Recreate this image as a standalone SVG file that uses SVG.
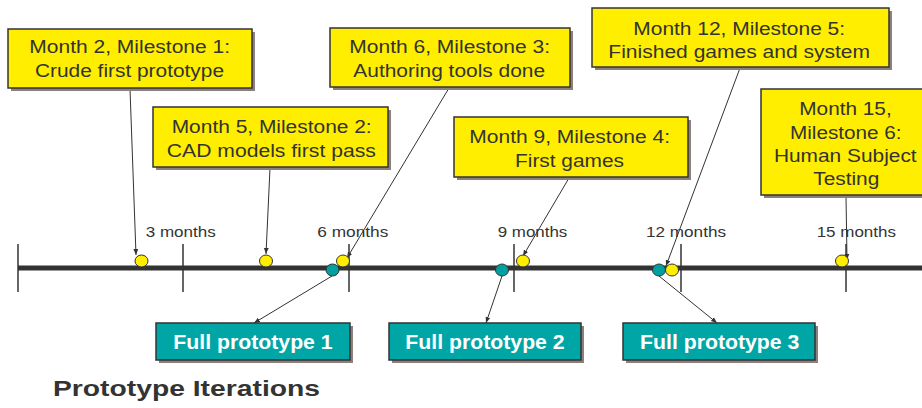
<svg xmlns="http://www.w3.org/2000/svg" width="922" height="408" viewBox="0 0 922 408">
  <defs>
    <marker id="arr" viewBox="0 0 10 10" refX="10" refY="5" markerWidth="6" markerHeight="6" orient="auto" markerUnits="userSpaceOnUse">
      <path d="M0,1 L10,5 L0,9 z" fill="#333"/>
    </marker>
  </defs>
  <style>
    .shadow { fill: #8c807c; }
    .ms { fill: #ffee00; stroke: #333; stroke-width: 1.5; }
    .proto { fill: #00a6a6; stroke: #333; stroke-width: 1.5; }
    .mtxt { font-family: "Liberation Sans", Arial, sans-serif; font-size: 17.5px; fill: #333; text-anchor: middle; }
    .ptxt { font-family: "Liberation Sans", Arial, sans-serif; font-size: 19.5px; font-weight: bold; fill: #fff; text-anchor: middle; }
    .tick { stroke: #333; stroke-width: 1.5; }
    .tlbl { font-family: "Liberation Sans", Arial, sans-serif; font-size: 15px; fill: #333; text-anchor: middle; }
    .link { stroke: #333; stroke-width: 1; fill: none; marker-end: url(#arr); }
    .ydot { fill: #ffee00; stroke: #333; stroke-width: 1; }
    .tdot { fill: #00a0a0; stroke: #333; stroke-width: 1; }
    .title { font-family: "Liberation Sans", Arial, sans-serif; font-size: 22px; font-weight: bold; fill: #333; }
  </style>

  <!-- timeline axis -->
  <g id="timeline">
    <line x1="18" y1="268" x2="922" y2="268" stroke="#333" stroke-width="5"/>
    <line class="tick" x1="18" y1="244" x2="18" y2="292"/>
    <line class="tick" x1="183" y1="244" x2="183" y2="292"/>
    <line class="tick" x1="349" y1="244" x2="349" y2="292"/>
    <line class="tick" x1="514" y1="244" x2="514" y2="292"/>
    <line class="tick" x1="681" y1="244" x2="681" y2="292"/>
    <line class="tick" x1="846" y1="244" x2="846" y2="292"/>
    <text class="tlbl" x="180.7" y="237" textLength="70" lengthAdjust="spacingAndGlyphs">3 months</text>
    <text class="tlbl" x="352.8" y="237" textLength="71" lengthAdjust="spacingAndGlyphs">6 months</text>
    <text class="tlbl" x="532.5" y="237" textLength="69.6" lengthAdjust="spacingAndGlyphs">9 months</text>
    <text class="tlbl" x="686" y="237" textLength="80" lengthAdjust="spacingAndGlyphs">12 months</text>
    <text class="tlbl" x="856.3" y="237" textLength="79.3" lengthAdjust="spacingAndGlyphs">15 months</text>
  </g>

  <!-- connectors -->
  <g id="connectors">
    <line class="link" x1="130" y1="89" x2="136" y2="255"/>
    <line class="link" x1="270" y1="168" x2="266" y2="254"/>
    <line class="link" x1="449" y1="88" x2="347" y2="258"/>
    <line class="link" x1="569" y1="178" x2="523" y2="256"/>
    <line class="link" x1="740" y1="68" x2="666" y2="266"/>
    <line class="link" x1="846" y1="196" x2="847" y2="260"/>
    <line class="link" x1="332" y1="276" x2="254" y2="323"/>
    <line class="link" x1="502" y1="276" x2="486" y2="323"/>
    <line class="link" x1="659" y1="276" x2="717" y2="323"/>
  </g>

  <!-- milestone markers on the axis -->
  <g id="markers">
    <ellipse class="ydot" cx="141.5" cy="261" rx="6.5" ry="6"/>
    <ellipse class="ydot" cx="266" cy="261" rx="6.5" ry="6"/>
    <ellipse class="tdot" cx="332.5" cy="270" rx="6.5" ry="6"/>
    <ellipse class="ydot" cx="343" cy="261" rx="6.5" ry="6"/>
    <ellipse class="tdot" cx="502" cy="270" rx="6.5" ry="6"/>
    <ellipse class="ydot" cx="523" cy="261" rx="6.5" ry="6"/>
    <ellipse class="tdot" cx="659" cy="270" rx="6.5" ry="6"/>
    <ellipse class="ydot" cx="672" cy="270" rx="6.5" ry="6"/>
    <ellipse class="ydot" cx="842" cy="261" rx="6.5" ry="6"/>
  </g>

  <g id="milestone1">
    <rect class="shadow" x="11" y="32" width="244" height="59"/>
    <rect class="ms" x="8" y="29" width="244" height="59"/>
    <text class="mtxt" x="129.7" y="53" textLength="200.7" lengthAdjust="spacingAndGlyphs">Month 2, Milestone 1:</text>
    <text class="mtxt" x="129.5" y="77" textLength="189" lengthAdjust="spacingAndGlyphs">Crude first prototype</text>
  </g>

  <g id="milestone2">
    <rect class="shadow" x="156" y="110" width="235" height="60"/>
    <rect class="ms" x="153" y="107" width="235" height="60"/>
    <text class="mtxt" x="271.7" y="133" textLength="200" lengthAdjust="spacingAndGlyphs">Month 5, Milestone 2:</text>
    <text class="mtxt" x="271.3" y="157" textLength="209" lengthAdjust="spacingAndGlyphs">CAD models first pass</text>
  </g>

  <g id="milestone3">
    <rect class="shadow" x="333" y="31" width="240" height="59"/>
    <rect class="ms" x="330" y="28" width="240" height="59"/>
    <text class="mtxt" x="449.7" y="53" textLength="200.7" lengthAdjust="spacingAndGlyphs">Month 6, Milestone 3:</text>
    <text class="mtxt" x="449.2" y="77" textLength="191.7" lengthAdjust="spacingAndGlyphs">Authoring tools done</text>
  </g>

  <g id="milestone4">
    <rect class="shadow" x="457" y="120" width="234" height="60"/>
    <rect class="ms" x="454" y="117" width="234" height="60"/>
    <text class="mtxt" x="569.7" y="143" textLength="200.7" lengthAdjust="spacingAndGlyphs">Month 9, Milestone 4:</text>
    <text class="mtxt" x="569.5" y="167" textLength="109" lengthAdjust="spacingAndGlyphs">First games</text>
  </g>

  <g id="milestone5">
    <rect class="shadow" x="595" y="11" width="297" height="59"/>
    <rect class="ms" x="592" y="8" width="297" height="59"/>
    <text class="mtxt" x="739.2" y="35" textLength="211.7" lengthAdjust="spacingAndGlyphs">Month 12, Milestone 5:</text>
    <text class="mtxt" x="739.2" y="58" textLength="261.7" lengthAdjust="spacingAndGlyphs">Finished games and system</text>
  </g>

  <g id="milestone6">
    <rect class="shadow" x="764" y="92" width="165" height="106"/>
    <rect class="ms" x="761" y="89" width="165" height="106"/>
    <text class="mtxt" x="845.5" y="115" textLength="92.4" lengthAdjust="spacingAndGlyphs">Month 15,</text>
    <text class="mtxt" x="845.8" y="138.5" textLength="111.7" lengthAdjust="spacingAndGlyphs">Milestone 6:</text>
    <text class="mtxt" x="845.3" y="162" textLength="142.7" lengthAdjust="spacingAndGlyphs">Human Subject</text>
    <text class="mtxt" x="846.3" y="185" textLength="66" lengthAdjust="spacingAndGlyphs">Testing</text>
  </g>

  <g id="prototype1">
    <rect class="shadow" x="159" y="326" width="194" height="37"/>
    <rect class="proto" x="156" y="323" width="194" height="37"/>
    <text class="ptxt" x="253" y="349" textLength="159.3" lengthAdjust="spacingAndGlyphs">Full prototype 1</text>
  </g>

  <g id="prototype2">
    <rect class="shadow" x="392" y="326" width="192" height="37"/>
    <rect class="proto" x="389" y="323" width="192" height="37"/>
    <text class="ptxt" x="485" y="349" textLength="159.3" lengthAdjust="spacingAndGlyphs">Full prototype 2</text>
  </g>

  <g id="prototype3">
    <rect class="shadow" x="626" y="326" width="192" height="37"/>
    <rect class="proto" x="623" y="323" width="192" height="37"/>
    <text class="ptxt" x="719.7" y="349" textLength="159.3" lengthAdjust="spacingAndGlyphs">Full prototype 3</text>
  </g>

  <text class="title" x="53" y="396" textLength="267" lengthAdjust="spacingAndGlyphs">Prototype Iterations</text>
</svg>
